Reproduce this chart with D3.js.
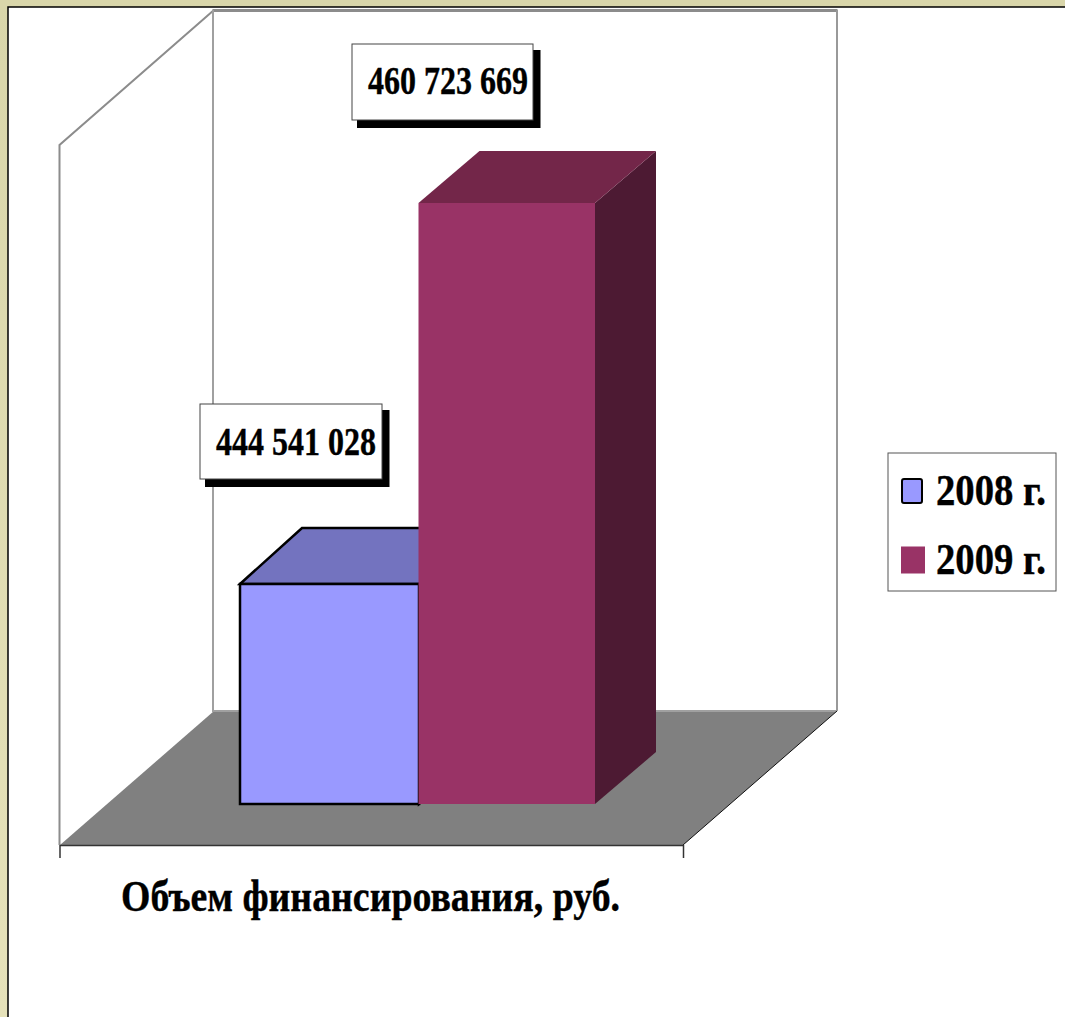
<!DOCTYPE html>
<html>
<head>
<meta charset="utf-8">
<script src="https://cdn.jsdelivr.net/npm/d3@7"></script>
<style>
  html, body { margin: 0; padding: 0; background: #fff; overflow: hidden; }
  text { font-family: "Liberation Serif", serif; font-weight: bold; fill: #000; stroke: #000; stroke-width: 0.4; }
</style>
</head>
<body>
<svg id="chart" width="1065" height="1017"></svg>
<script>
const years = ['2008 г.', '2009 г.']
const amounts = [444541028, 460723669]
const amountLabels = ['444 541 028', '460 723 669']
const frontColors = ['#9999ff', '#993366']
const topColors = ['#7373bf', '#732649']
const sideColors = ['#4d4d80', '#4d1a33']
const axisTitle = 'Объем финансирования, руб.'

const width = 1065
const height = 1017

const svg = d3.select('#chart')

// рамка слайда
const grad = svg.append('defs').append('linearGradient').attr('id', 'bg')
  .attr('x1', 0).attr('y1', 0).attr('x2', 0).attr('y2', 1)
grad.append('stop').attr('offset', 0).attr('stop-color', '#d9d6aa')
grad.append('stop').attr('offset', 1).attr('stop-color', '#e6e2ba')
svg.append('rect').attr('width', width).attr('height', height).attr('fill', 'url(#bg)')
svg.append('rect').attr('x', 8).attr('y', 7).attr('width', width).attr('height', height)
  .attr('fill', '#fff').attr('stroke', '#000').attr('stroke-width', 1.5)

const xLeft = d3.scaleOrdinal(years, [240, 418.5])
const xRight = d3.scaleOrdinal(years, [419, 595])
const depthX = d3.scaleOrdinal(years, [62, 61])
const depthY = d3.scaleOrdinal(years, [-56, -52])
const y = d3.scaleLinear().domain([435197000, 460723669]).range([804, 203])
const axisX = d3.scaleLinear().domain([0, 1]).range([59.5, 683])

const poly = pts => pts.map(p => p.join(',')).join(' ')

// стены и пол
svg.append('polygon')
  .attr('points', poly([[60, 845], [683, 845], [837, 711], [214, 711]]))
  .attr('fill', '#808080')
svg.append('path').attr('d', 'M59.5,845V145L214,10').attr('fill', 'none').attr('stroke', '#8c8c8c').attr('stroke-width', 2)
svg.append('path').attr('d', 'M212.5,10.5H837.5').attr('fill', 'none').attr('stroke', '#8c8c8c').attr('stroke-width', 3)
svg.append('path').attr('d', 'M837,10V711').attr('fill', 'none').attr('stroke', '#999').attr('stroke-width', 2)
svg.append('path').attr('d', 'M213,10V711H837').attr('fill', 'none').attr('stroke', '#a0a0a0').attr('stroke-width', 2)
svg.append('path').attr('d', 'M683,845L837,711').attr('fill', 'none').attr('stroke', '#111').attr('stroke-width', 1)

svg.append('g')
  .attr('transform', 'translate(0,845)')
  .call(d3.axisBottom(axisX).tickValues([0, 1]).tickFormat('').tickSize(13).tickSizeOuter(0))
  .call(g => g.selectAll('path,line').attr('stroke', '#333').attr('stroke-width', 1.5))

// столбцы
const bars = svg.selectAll('g.bar').data(years).enter().append('g').attr('class', 'bar')
bars.each(function (d, i) {
  const g = d3.select(this)
  const l = xLeft(d)
  const r = xRight(d)
  const dx = depthX(d)
  const dy = depthY(d)
  const t = y(amounts[i])
  const b = y.range()[0]
  const stroke = i === 0 ? '#000' : 'none'
  g.append('polygon')
    .attr('points', poly([[r, t], [r + dx, t + dy], [r + dx, b + dy], [r, b]]))
    .attr('fill', sideColors[i]).attr('stroke', stroke).attr('stroke-width', 2.5)
  g.append('polygon')
    .attr('points', poly([[l, t], [l + dx, t + dy], [r + dx, t + dy], [r, t]]))
    .attr('fill', topColors[i]).attr('stroke', stroke).attr('stroke-width', 2.5)
  g.append('rect')
    .attr('x', l).attr('y', t).attr('width', r - l).attr('height', b - t)
    .attr('fill', frontColors[i]).attr('stroke', stroke).attr('stroke-width', 2.5)
})

// подписи значений
const labelBoxes = [[200, 404, 182, 75], [352, 44, 181, 76]]
const labels = svg.selectAll('g.label').data(amountLabels).enter().append('g').attr('class', 'label')
labels.each(function (d, i) {
  const [lx, ly, lw, lh] = labelBoxes[i]
  const g = d3.select(this)
  g.append('rect').attr('x', lx + 5).attr('y', ly + 6).attr('width', lw + 2.5).attr('height', lh + 2)
    .attr('fill', '#000')
  g.append('rect').attr('x', lx).attr('y', ly).attr('width', lw).attr('height', lh)
    .attr('fill', '#fff').attr('stroke', '#444').attr('stroke-width', 1)
  g.append('text').attr('x', lx + 16).attr('y', ly + 51 - i)
    .attr('font-size', 41).attr('textLength', 160).attr('lengthAdjust', 'spacingAndGlyphs').text(d)
})

svg.append('text').attr('x', 121).attr('y', 911)
  .attr('font-size', 44).attr('textLength', 499).attr('lengthAdjust', 'spacingAndGlyphs').text(axisTitle)

// легенда
const legend = svg.append('g')
legend.append('rect').attr('x', 888).attr('y', 453).attr('width', 168).attr('height', 138)
  .attr('fill', '#fff').attr('stroke', '#555').attr('stroke-width', 1)
const legendY = d3.scalePoint().domain(years).range([491, 560])
years.forEach((d, i) => {
  const w = i === 0 ? 20 : 24
  const h = i === 0 ? 24 : 27
  legend.append('rect').attr('x', i === 0 ? 902 : 901).attr('y', legendY(d) - h / 2).attr('width', w).attr('height', h)
    .attr('rx', i === 0 ? 2 : 0)
    .attr('fill', frontColors[i]).attr('stroke', i === 0 ? '#000' : 'none').attr('stroke-width', 2)
  legend.append('text').attr('x', 936).attr('y', legendY(d) + 14)
    .attr('font-size', 44).attr('textLength', 110).attr('lengthAdjust', 'spacingAndGlyphs').text(d)
})
</script>
</body>
</html>
